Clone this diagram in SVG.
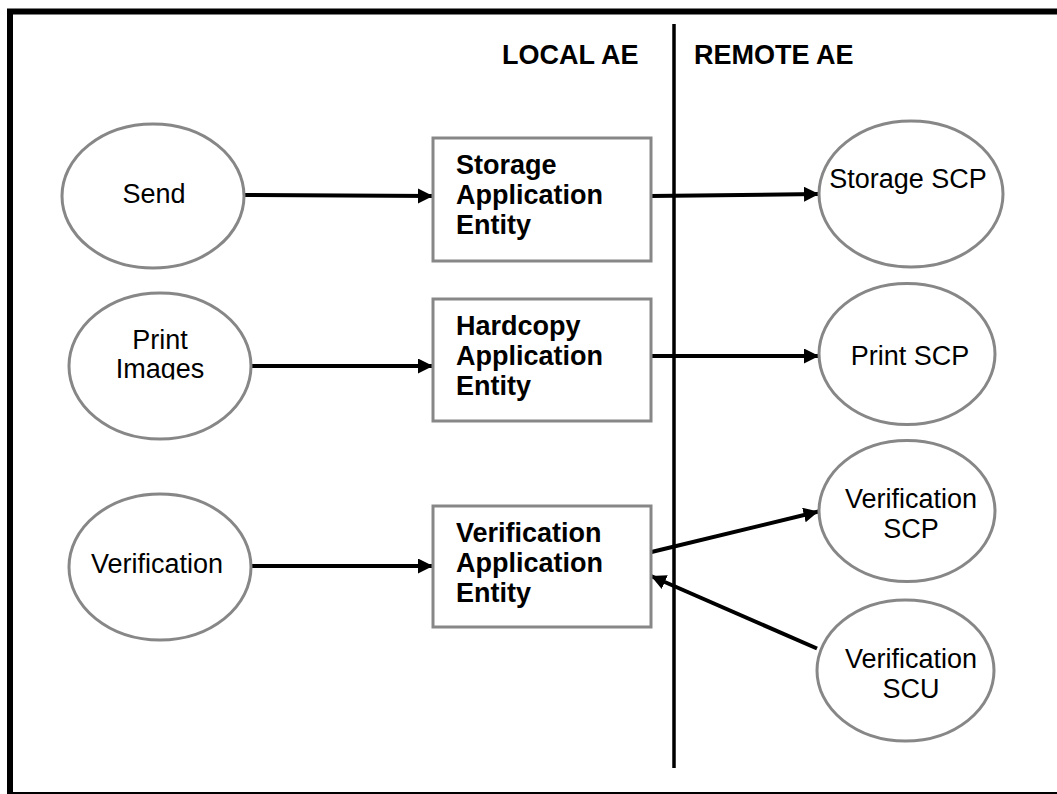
<svg xmlns="http://www.w3.org/2000/svg" width="1057" height="794" viewBox="0 0 1057 794">
<style>
.node ellipse{fill:#fff;stroke:#878787;stroke-width:3}
.node rect{fill:#fff;stroke:#878787;stroke-width:3}
text{font-family:"Liberation Sans",Arial,sans-serif;font-size:27px;fill:#000}
.c{text-anchor:middle}
.b{font-weight:bold}
.conn line{stroke:#000;stroke-width:4;marker-end:url(#ah)}
</style>
<defs>
<marker id="ah" markerUnits="userSpaceOnUse" markerWidth="16" markerHeight="16" refX="15" refY="7.5" orient="auto" viewBox="0 0 16 16">
<path d="M0,0 L15,7.5 L0,15 Z" fill="#000"/>
</marker>
<clipPath id="clipImg"><rect x="60" y="290" width="200" height="89.5"/></clipPath>
</defs>
<rect x="0" y="0" width="1057" height="794" fill="#fff"/>
<rect id="frame" x="10" y="11.5" width="1100" height="783.5" fill="none" stroke="#000" stroke-width="6"/>
<line id="divider" x1="674" y1="24" x2="674" y2="768" stroke="#000" stroke-width="3.5"/>
<text class="b" x="502" y="64">LOCAL AE</text>
<text class="b" x="694" y="64">REMOTE AE</text>

<g class="conn" id="connectors">
<line x1="244" y1="195" x2="433" y2="196"/>
<line x1="651" y1="196" x2="819" y2="194"/>
<line x1="252" y1="366" x2="433" y2="366"/>
<line x1="651" y1="356" x2="819" y2="356"/>
<line x1="252" y1="566" x2="433" y2="566"/>
<line x1="651.5" y1="552" x2="818.5" y2="511.5"/>
<line x1="817" y1="648.5" x2="651" y2="576"/>
</g>

<g class="node" id="send">
<ellipse cx="153" cy="196" rx="91" ry="72"/>
<text class="c" x="154" y="203">Send</text>
</g>
<g class="node" id="print-images">
<ellipse cx="160" cy="366" rx="91" ry="73"/>
<text class="c" x="160" y="349">Print</text>
<text class="c" x="160" y="378" clip-path="url(#clipImg)">Images</text>
</g>
<g class="node" id="verification">
<ellipse cx="160" cy="567" rx="91" ry="73"/>
<text class="c" x="157" y="573">Verification</text>
</g>

<g class="node" id="storage-ae">
<rect x="433" y="138" width="218" height="123"/>
<text class="b" x="456" y="174">Storage</text>
<text class="b" x="456" y="204">Application</text>
<text class="b" x="456" y="234">Entity</text>
</g>
<g class="node" id="hardcopy-ae">
<rect x="433" y="299" width="218" height="122"/>
<text class="b" x="456" y="335">Hardcopy</text>
<text class="b" x="456" y="365">Application</text>
<text class="b" x="456" y="395">Entity</text>
</g>
<g class="node" id="verification-ae">
<rect x="433" y="506" width="218" height="121"/>
<text class="b" x="456" y="542">Verification</text>
<text class="b" x="456" y="572">Application</text>
<text class="b" x="456" y="602">Entity</text>
</g>

<g class="node" id="storage-scp">
<ellipse cx="911" cy="194" rx="92" ry="73"/>
<text class="c" x="908" y="188">Storage SCP</text>
</g>
<g class="node" id="print-scp">
<ellipse cx="907" cy="354" rx="88" ry="70.5"/>
<text class="c" x="910" y="365">Print SCP</text>
</g>
<g class="node" id="verification-scp">
<ellipse cx="907" cy="511" rx="88" ry="70.5"/>
<text class="c" x="911" y="508">Verification</text>
<text class="c" x="911" y="538">SCP</text>
</g>
<g class="node" id="verification-scu">
<ellipse cx="905.5" cy="670.5" rx="88.5" ry="70.5"/>
<text class="c" x="911" y="668">Verification</text>
<text class="c" x="911" y="698">SCU</text>
</g>
</svg>
